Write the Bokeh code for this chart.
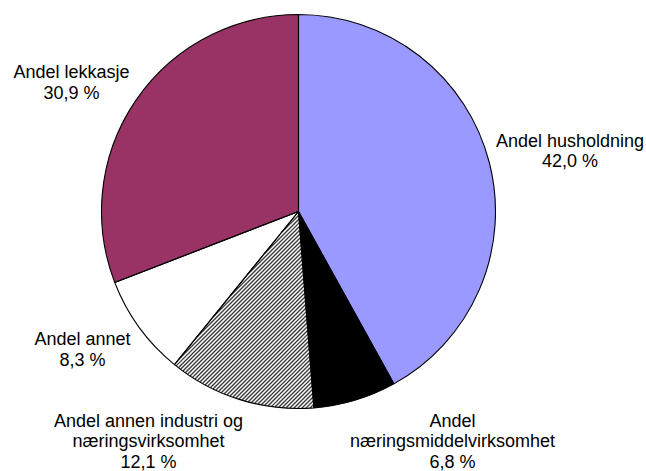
import math
from bokeh.plotting import figure
from bokeh.models import Range1d, ColumnDataSource
from bokeh.core.properties import value
from bokeh.embed import file_html
from bokeh.resources import INLINE

# Data (clockwise from 12 o'clock)
categories = ["Andel husholdning", "Andel\nnæringsmiddelvirksomhet",
              "Andel annen industri og\nnæringsvirksomhet", "Andel annet", "Andel lekkasje"]
shares = [42.0, 6.8, 12.1, 8.3, 30.9]
share_labels = ["42,0 %", "6,8 %", "12,1 %", "8,3 %", "30,9 %"]
colors = ["#9999FF", "#000000", "#FFFFFF", "#FFFFFF", "#993366"]
hatched = [False, False, True, False, False]

# Layout (page pixel coordinates)
W, H = 646, 471
cx, cy, r = 298, 211, 197
label_pos = [(569.5, 150.5), (452, 441), (148, 441), (82, 349), (71, 82)]
hatch_spacing = 4 / math.sqrt(2)

def py(y):
    return H - y

total = sum(shares)
starts, ends = [], []
cum = 0.0
for s in shares:
    a0 = math.pi / 2 - 2 * math.pi * cum / total
    cum += s
    a1 = math.pi / 2 - 2 * math.pi * cum / total
    starts.append(a0)
    ends.append(a1)

p = figure(width=W, height=H, output_backend="svg", toolbar_location=None,
           x_range=Range1d(0, W), y_range=Range1d(0, H),
           min_border=0, outline_line_color=None)
p.axis.visible = False
p.grid.visible = False
p.background_fill_color = "white"
p.border_fill_color = "white"

ccy = py(cy)
src = ColumnDataSource(dict(x=[cx] * 5, y=[ccy] * 5, start=starts, end=ends, color=colors))
p.wedge(x="x", y="y", radius=r, start_angle="start", end_angle="end",
        direction="clock", fill_color="color", line_color=None, source=src)

# diagonal hatch lines ("/") clipped to the hatched sector(s)
def cross(a, b):
    return a[0] * b[1] - a[1] * b[0]

hx, hy = [], []
d = (1 / math.sqrt(2), 1 / math.sqrt(2))
n = (1 / math.sqrt(2), -1 / math.sqrt(2))
for i, h in enumerate(hatched):
    if not h:
        continue
    a_hi, a_lo = starts[i], ends[i]  # sector from a_lo CCW to a_hi
    u_lo = (math.cos(a_lo), math.sin(a_lo))
    u_hi = (math.cos(a_hi), math.sin(a_hi))
    kmax = int(r / hatch_spacing) + 1
    for k in range(-kmax, kmax + 1):
        o = (k * hatch_spacing * n[0], k * hatch_spacing * n[1])
        oo = o[0] ** 2 + o[1] ** 2
        if oo >= r * r:
            continue
        t0, t1 = -math.sqrt(r * r - oo), math.sqrt(r * r - oo)
        # cross(u_lo, o + t d) >= 0 ; -cross(u_hi, o + t d) >= 0
        for (c0, c1) in ((cross(u_lo, o), cross(u_lo, d)),
                         (-cross(u_hi, o), -cross(u_hi, d))):
            if abs(c1) < 1e-12:
                if c0 < 0:
                    t0, t1 = 1, 0
                continue
            tb = -c0 / c1
            if c1 > 0:
                t0 = max(t0, tb)
            else:
                t1 = min(t1, tb)
        if t1 - t0 > 0.3:
            hx.append([cx + o[0] + t0 * d[0], cx + o[0] + t1 * d[0]])
            hy.append([ccy + o[1] + t0 * d[1], ccy + o[1] + t1 * d[1]])
p.multi_line(xs=hx, ys=hy, line_color="#3c3c3c", line_width=1.4)

p.wedge(x="x", y="y", radius=r, start_angle="start", end_angle="end",
        direction="clock", fill_color=None, line_color="black", line_width=1.1, source=src)

lsrc = ColumnDataSource(dict(
    x=[lp[0] for lp in label_pos], y=[py(lp[1]) for lp in label_pos],
    t=[c + "\n" + s for c, s in zip(categories, share_labels)]))
p.text(x="x", y="y", text="t", source=lsrc, text_align="center", text_baseline="middle",
       text_font=value("Liberation Sans"), text_font_size="18px", text_color="black",
       text_line_height=1.02)

open("out.html", "w").write(file_html(p, INLINE))
